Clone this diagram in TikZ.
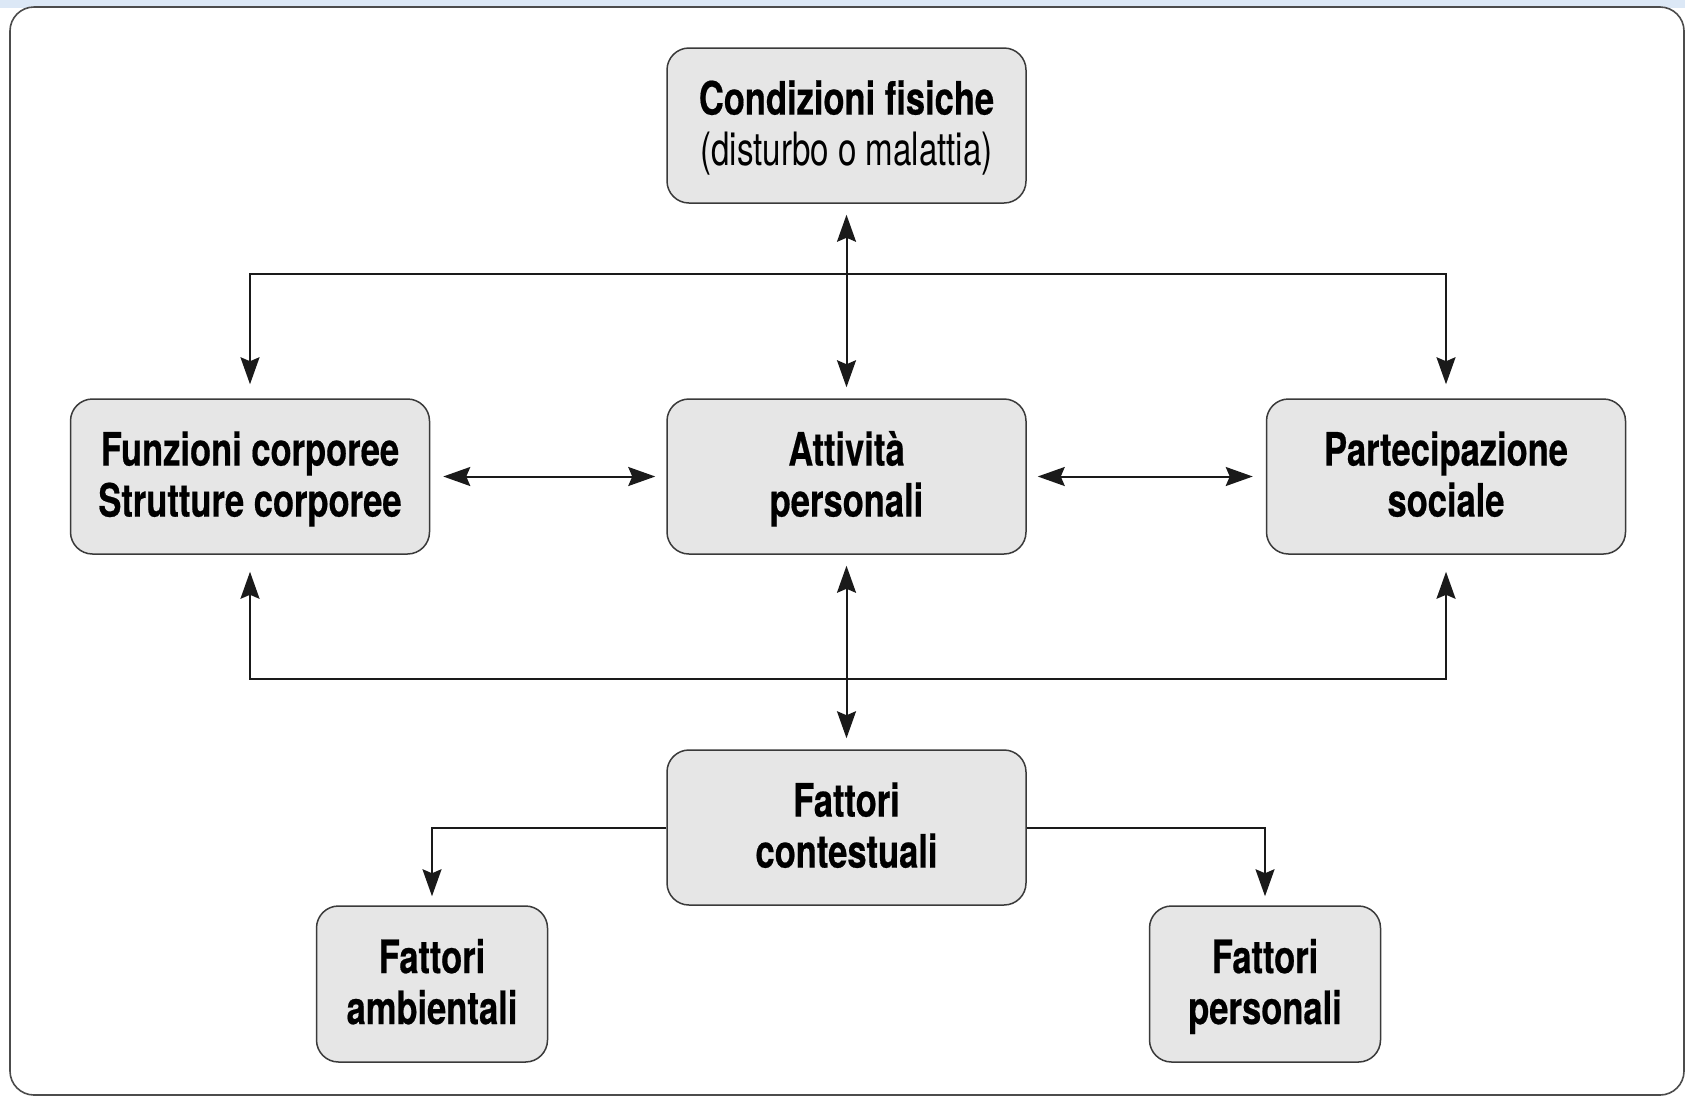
\documentclass[tikz,border=0pt]{standalone}
\usepackage{fontspec}
\setmainfont{TeX Gyre Heros}[FakeStretch=0.75, BoldFeatures={FakeBold=0.4}]
\usetikzlibrary{arrows.meta}
\definecolor{boxfill}{HTML}{E6E6E6}
\definecolor{boxline}{HTML}{3A3A3A}
\definecolor{topstrip}{HTML}{DCE8F6}
\definecolor{lineclr}{HTML}{1A1A1A}
\newcommand{\twoline}[2]{\rule{0pt}{44.5pt}#1\\\strut#2}
\tikzset{
  bigbox/.style={draw=boxline, line width=1.5pt, fill=boxfill, rounded corners=22pt,
    minimum width=359pt, minimum height=155pt, align=center, inner sep=0pt,
    font=\fontsize{46}{51}\selectfont\bfseries},
  smallbox/.style={bigbox, minimum width=231pt, minimum height=156pt},
  conn/.style={draw=lineclr, line width=2pt},
  arr/.style={conn, -{Stealth[length=27pt,width=19pt,inset=4pt]}, shorten >=11pt},
  dbl/.style={conn, {Stealth[length=27pt,width=19pt,inset=4pt]}-{Stealth[length=27pt,width=19pt,inset=4pt]}, shorten >=11pt, shorten <=11pt}
}
\begin{document}
\begin{tikzpicture}[x=1pt,y=-1pt]
\useasboundingbox (0,0) rectangle (1685,1096);
\fill[white] (0,0) rectangle (1685,1096);
\fill[topstrip] (0,0) rectangle (1685,8);
\draw[draw=gray!60!black, line width=1.6pt, rounded corners=24pt] (10,7) rectangle (1684,1095);

\node[bigbox] (cond) at (846.5,125.5) {\twoline{Condizioni fisiche}{\mdseries\scalebox{0.96}[1]{(disturbo o malattia)}}};
\node[bigbox] (att) at (846.5,476.5) {\twoline{Attività}{personali}};
\node[bigbox] (funz) at (250,476.5) {\twoline{Funzioni corporee}{Strutture corporee}};
\node[bigbox] (part) at (1446,476.5) {\twoline{Partecipazione}{sociale}};
\node[bigbox] (cont) at (846.5,827.5) {\twoline{Fattori}{contestuali}};
\node[smallbox] (amb) at (432,984) {\twoline{Fattori}{ambientali}};
\node[smallbox] (pers) at (1265,984) {\twoline{Fattori}{personali}};

\coordinate (top) at (846.5,274);
\coordinate (bot) at (846.5,679);

\draw[dbl] (cond.south) -- (att.north);
\draw[arr, shorten >=14pt] (top) -| (funz.north);
\draw[arr, shorten >=14pt] (top) -| (part.north);
\draw[dbl, shorten <=13pt] (funz.east) -- (att.west);
\draw[dbl, shorten >=13pt] (att.east) -- (part.west);
\draw[arr, shorten >=17pt] (bot) -| (funz.south);
\draw[arr, shorten >=17pt] (bot) -| (part.south);
\draw[dbl] (att.south) -- (cont.north);
\draw[arr, shorten >=9pt] (cont.west) -| (amb.north);
\draw[arr, shorten >=9pt] (cont.east) -| (pers.north);
\end{tikzpicture}
\end{document}
